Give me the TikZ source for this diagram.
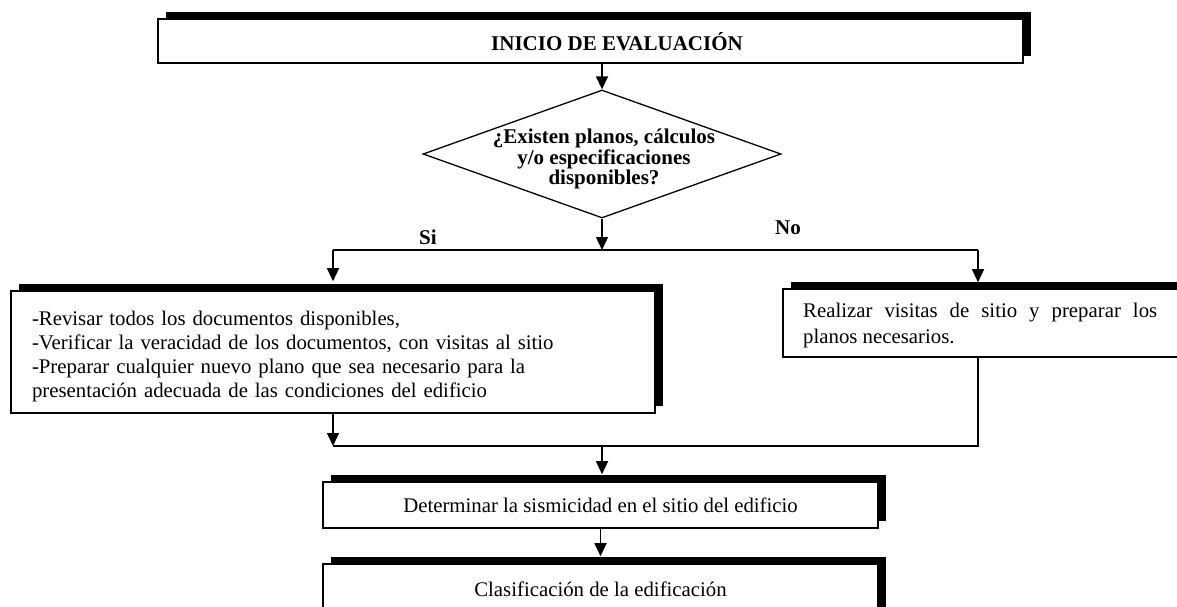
\documentclass[tikz,border=0pt]{standalone}
\usepackage{fontspec}
\setmainfont{Liberation Serif}
\usetikzlibrary{shapes.geometric,arrows.meta,shadows}

\begin{document}
\begin{tikzpicture}[x=1pt, y=-1pt,
        caja/.style={draw, line width=1.6pt, fill=white, inner sep=0pt,
            general shadow={fill=black, shadow xshift=8pt, shadow yshift=7pt}},
        flecha/.style={line width=1.4pt, -{Triangle[length=13pt, width=12pt]}},
        linea/.style={line width=1.4pt},
        texto/.style={font=\fontsize{20.8}{24}\selectfont},
        negrita/.style={font=\fontsize{21}{20.5}\selectfont\bfseries}]
    \useasboundingbox (0,0) rectangle (1177,607);
    % cajas
    \node[caja, minimum width=865pt, minimum height=44pt] (inicio) at (590.5,41) {};
    \node[negrita] (inicio texto) at (617,42) {INICIO DE EVALUACIÓN};
    \node[draw, diamond, line width=1.3pt, minimum width=358pt, minimum height=128pt, inner sep=0pt] (pregunta) at (602,154) {};
    \node[negrita, align=center] (pregunta texto) at (604,159) {¿Existen planos, cálculos\\y/o especificaciones\\disponibles?};
    \node[negrita] (si) at (428,237) {Si};
    \node[negrita] (no) at (788,228) {No};
    \node[caja, texto, minimum width=644pt, minimum height=122pt, text width=602pt, align=left] (revisar) at (333,352)
        {\rule{0pt}{24pt}-Revisar todos los documentos disponibles,\\-Verificar la veracidad de los documentos, con visitas al sitio\\-Preparar cualquier nuevo plano que sea necesario para la\\presentación adecuada de las condiciones del edificio};
    \node[caja, minimum width=407pt, minimum height=68pt] (visitas) at (986.5,323) {};
    \begin{scope}
        \clip (783,289) rectangle (1177,347);
        \node[font=\fontsize{20.8}{25.5}\selectfont, align=left, inner sep=0pt, anchor=north west] (visitas texto) at (803,303)
            {\makebox[354pt][s]{Realizar visitas de sitio y preparar los}\\planos necesarios.};
    \end{scope}
    \node[caja, texto, minimum width=555pt, minimum height=46pt] (determinar) at (600.5,505) {Determinar la sismicidad en el sitio del edificio};
    \node[caja, texto, minimum width=555pt, minimum height=50pt] (clasificacion) at (600.5,589) {Clasificación de la edificación};
    % conectores
    \coordinate (reparto) at (602,250);
    \coordinate (reparto der) at (978,250);
    \coordinate (union) at (602,446);
    \coordinate (union der) at (978,446);
    \draw[flecha] (inicio.south -| pregunta.north) -- (pregunta.north);
    \draw[flecha] (pregunta.south) -- (reparto);
    \draw[linea] (reparto -| revisar.north) -- (reparto der);
    \draw[flecha, shorten >=9pt] (reparto -| revisar.north) -- (revisar.north);
    \draw[flecha, shorten >=6pt] (reparto der) -- (reparto der |- visitas.north);
    \draw[flecha] (revisar.south) -- (revisar.south |- union);
    \draw[linea] (revisar.south |- union) -- (union der) -- (union der |- visitas.south);
    \draw[flecha, shorten >=7pt] (union) -- (union |- determinar.north);
    \draw[flecha, shorten >=7pt] (determinar.south) -- (clasificacion.north);
\end{tikzpicture}
\end{document}
